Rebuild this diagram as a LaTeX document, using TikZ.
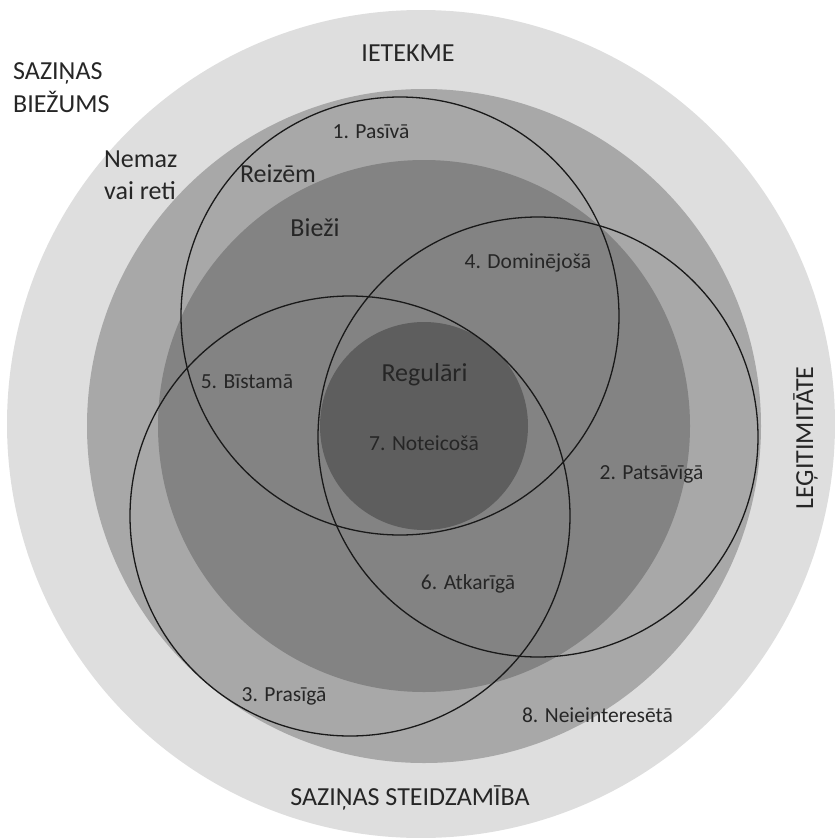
\documentclass[tikz,border=0pt]{standalone}
\usepackage{fontspec}
\setmainfont{Carlito}
\usepackage{xcolor}
\definecolor{ringA}{HTML}{DEDEDE}
\definecolor{ringB}{HTML}{A8A8A8}
\definecolor{ringC}{HTML}{838383}
\definecolor{ringD}{HTML}{5E5E5E}
\definecolor{txt}{HTML}{262626}
\tikzstyle{axis label}=[text=txt,font=\fontsize{26}{31}\selectfont,inner sep=0,anchor=base]
\tikzstyle{group label}=[text=txt,font=\fontsize{21.5}{26}\selectfont,inner sep=0,anchor=base]
\tikzstyle{attr}=[draw=black!90,line width=1.3pt]

\begin{document}
\begin{tikzpicture}[x=1pt,y=-1pt]
  \useasboundingbox (0,0) rectangle (835,838);
  \def\cx{424}
  \def\cy{426}
  % frequency rings
  \fill[ringA] (421,424) circle[radius=414pt];
  \fill[ringB] (\cx,\cy) circle[radius=337pt];
  \fill[ringC] (\cx,\cy) circle[radius=266pt];
  \fill[ringD] (\cx,\cy) circle[radius=104pt];
  % attributes
  \draw[attr] (400,316) circle[radius=219pt];
  \draw[attr] (538,437) circle[radius=220pt];
  \draw[attr] (350,516) circle[radius=220pt];
  \node[axis label] (power) at (408,61) {IETEKME};
  \node[axis label,rotate=90] (legit) at (813,438) {LEĢITIMITĀTE};
  \node[axis label] (urgency) at (410,805) {SAZIŅAS STEIDZAMĪBA};
  \node[axis label,anchor=base west] (freq1) at (13,79) {SAZIŅAS};
  \node[axis label,anchor=base west] (freq2) at (13,112) {BIEŽUMS};
  \node[axis label,anchor=base west] (never1) at (104,167) {Nemaz};
  \node[axis label,anchor=base west] (never2) at (104,199) {vai reti};
  \node[axis label] (sometimes) at (278,182) {Reizēm};
  \node[axis label] (often) at (315,236) {Bieži};
  \node[axis label] (regular) at (424.5,381) {Regulāri};
  % stakeholder groups
  \foreach \n/\x/\y/\t in {1/371/138/1. Pasīvā, 2/651.5/479/2. Patsāvīgā,
      3/284/701/3. Prasīgā, 4/528/268/4. Dominējošā, 5/247/388/5. Bīstamā,
      6/468/589/6. Atkarīgā, 7/424/450/7. Noteicošā, 8/597.5/722/8. Neieinteresētā}
    \node[group label] (g\n) at (\x,\y) {\t};
\end{tikzpicture}
\end{document}
